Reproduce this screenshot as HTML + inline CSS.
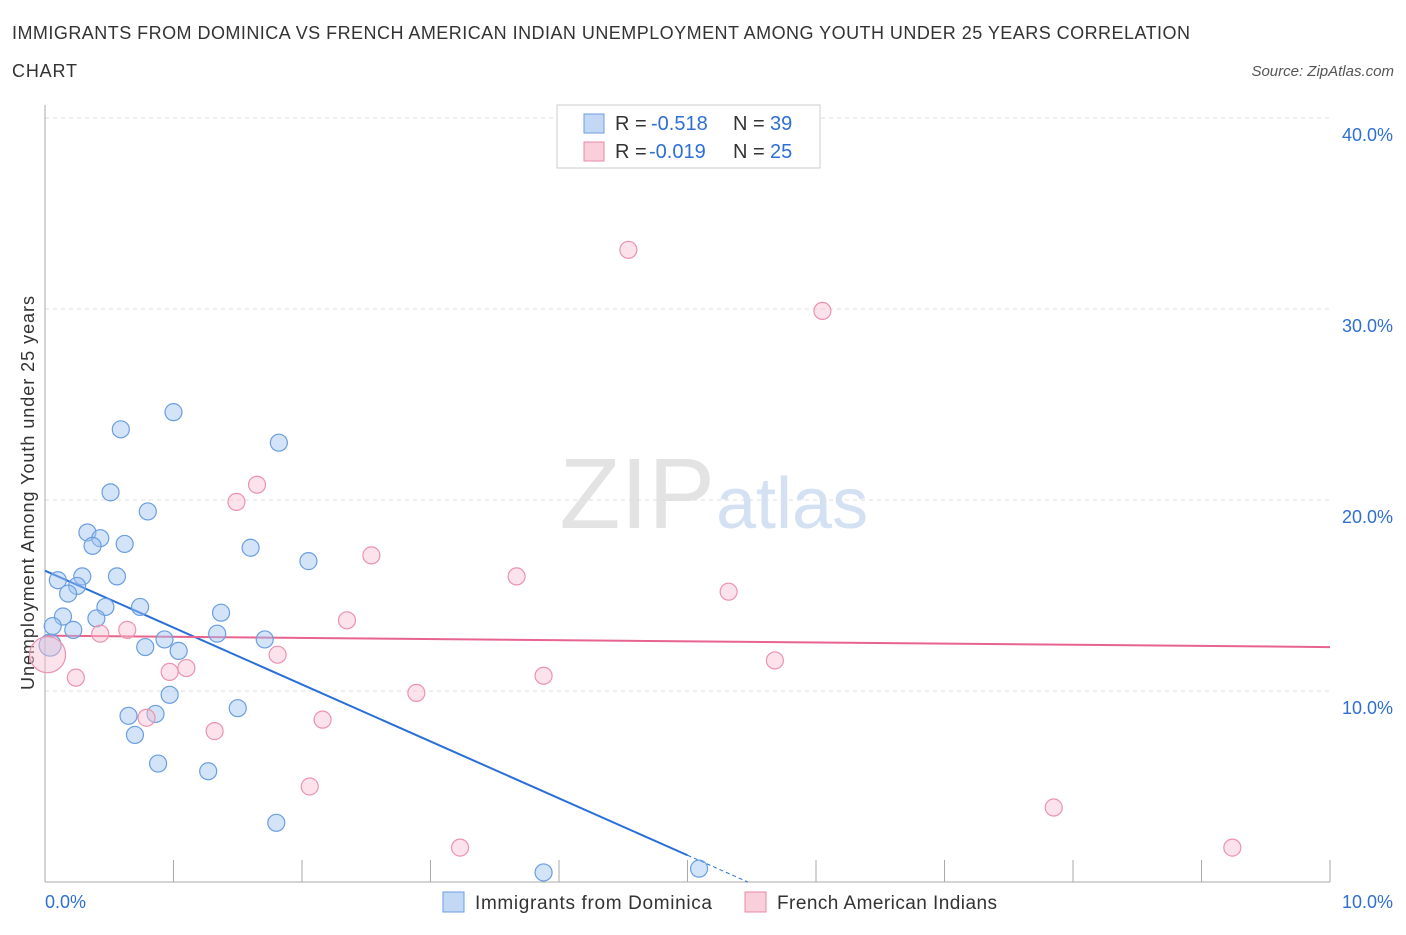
<!DOCTYPE html>
<html><head><meta charset="utf-8"><style>
body{margin:0;background:#fff;font-family:"Liberation Sans",sans-serif;}
svg text{font-family:"Liberation Sans",sans-serif;}
</style></head><body>
<svg width="1406" height="930" id="chart">
<text x="12" y="39" font-size="18" fill="#333" textLength="1178">IMMIGRANTS FROM DOMINICA VS FRENCH AMERICAN INDIAN UNEMPLOYMENT AMONG YOUTH UNDER 25 YEARS CORRELATION</text>
<text x="12" y="77" font-size="18" fill="#333" textLength="65">CHART</text>
<text x="1394" y="76" font-size="15" fill="#555" font-style="italic" text-anchor="end">Source: ZipAtlas.com</text>
<text x="715" y="528" font-size="100" fill="#e3e3e3" text-anchor="end" font-family="Liberation Serif">ZIP</text>
<text x="716" y="528" font-size="72" fill="#d3e1f3">atlas</text>
<text transform="translate(34,493) rotate(-90)" font-size="18" fill="#333" text-anchor="middle" textLength="394">Unemployment Among Youth under 25 years</text>
<g id="grid"></g><g id="axes"></g><g id="lines"></g><g id="pts"></g>
<g>
<rect x="557" y="105" width="263" height="63" fill="#fff" stroke="#ccc"/>
<rect x="584" y="114" width="20" height="19" fill="#c3d8f5" stroke="#6b9ee0"/>
<rect x="584" y="142" width="20" height="19" fill="#f9cfdb" stroke="#e98aa6"/>
<text x="615" y="130" font-size="20" fill="#333">R =</text><text x="651" y="130" font-size="20" fill="#2e6fd4">-0.518</text>
<text x="733" y="130" font-size="20" fill="#333">N =</text><text x="770" y="130" font-size="20" fill="#2e6fd4">39</text>
<text x="615" y="158" font-size="20" fill="#333">R =</text><text x="649" y="158" font-size="20" fill="#2e6fd4">-0.019</text>
<text x="733" y="158" font-size="20" fill="#333">N =</text><text x="770" y="158" font-size="20" fill="#2e6fd4">25</text>
</g>
<g>
<rect x="443" y="892" width="21" height="20" fill="#c3d8f5" stroke="#6b9ee0"/>
<text x="475" y="909" font-size="19" fill="#333" textLength="237">Immigrants from Dominica</text>
<rect x="745" y="892" width="21" height="20" fill="#f9cfdb" stroke="#e98aa6"/>
<text x="777" y="909" font-size="19" fill="#333" textLength="220">French American Indians</text>
</g>
</svg>
<script>
const yTicks=[10,20,30,40];
const yTickLabels=["10.0%","20.0%","30.0%","40.0%"];
const xLabels=["0.0%","10.0%"];
const blueX=[1.00,0.59,1.82,0.51,0.80,0.33,0.43,0.37,0.62,1.60,2.05,0.29,0.10,0.56,0.25,0.18,0.47,0.74,0.40,1.37,0.14,0.06,0.22,0.93,1.34,1.71,0.78,1.04,0.04,0.97,0.65,0.86,1.50,0.70,0.88,1.27,1.80,3.88,5.09];
const blueY=[24.6,23.7,23.0,20.4,19.4,18.3,18.0,17.6,17.7,17.5,16.8,16.0,15.8,16.0,15.5,15.1,14.4,14.4,13.8,14.1,13.9,13.4,13.2,12.7,13.0,12.7,12.3,12.1,12.4,9.8,8.7,8.8,9.1,7.7,6.2,5.8,3.1,0.5,0.7];
const pinkX=[4.54,6.05,1.65,1.49,2.54,3.67,5.32,2.35,0.64,0.43,1.81,5.68,1.10,0.97,3.88,0.24,2.89,2.16,0.79,1.32,2.06,7.85,3.23,9.24,0.02];
const pinkY=[33.1,29.9,20.8,19.9,17.1,16.0,15.2,13.7,13.2,13.0,11.9,11.6,11.2,11.0,10.8,10.7,9.9,8.5,8.6,7.9,5.0,3.9,1.8,1.8,11.9];
const blueTrend=[16.3,-2.98];
const pinkTrend=[12.9,-0.06];
const X=v=>45+v*128.5, Y=v=>882-v*19.1;
const NS="http://www.w3.org/2000/svg";
function mk(t,a,p){const e=document.createElementNS(NS,t);for(const k in a)e.setAttribute(k,a[k]);document.getElementById(p).appendChild(e);return e;}
yTicks.forEach((t,i)=>{
 const l=mk('line',{x1:45,x2:1330,y1:Y(t),y2:Y(t),stroke:'#ddd','stroke-dasharray':'4,4'},'grid');
 
 
 const tx=mk('text',{x:1393,y:Y(t)+23,'font-size':18,fill:'#2e6fd4','text-anchor':'end'},'axes');
 tx.textContent=yTickLabels[i];
 
 
});
const ya=mk('line',{x1:45,x2:45,y1:105,y2:882,stroke:'#aaa'},'axes');


const xa=mk('line',{x1:45,x2:1330,y1:882,y2:882,stroke:'#aaa'},'axes');


for(let i=0;i<=10;i++){const tk=mk('line',{x1:45+i*128.5,x2:45+i*128.5,y1:860,y2:882,stroke:'#aaa'},'axes');
 
 }
[[0,'start',45],[10,'end',1393]].forEach((d,i)=>{const t=mk('text',{x:d[2],y:908,'font-size':18,fill:'#2e6fd4','text-anchor':d[1]},'axes');t.textContent=xLabels[i];
 
 });
const bEnd=5.0, bZero=-blueTrend[0]/blueTrend[1];
const bl=mk('line',{x1:X(0),y1:Y(blueTrend[0]),x2:X(bEnd),y2:Y(blueTrend[0]+blueTrend[1]*bEnd),stroke:'#2a6fd8','stroke-width':2},'lines');


const bd=mk('line',{x1:X(bEnd),y1:Y(blueTrend[0]+blueTrend[1]*bEnd),x2:X(bZero),y2:Y(0),stroke:'#2a6fd8','stroke-width':1,'stroke-dasharray':'4,3'},'lines');


const pl=mk('line',{x1:X(0),y1:Y(pinkTrend[0]),x2:X(10),y2:Y(pinkTrend[0]+pinkTrend[1]*10),stroke:'#e8648f','stroke-width':2},'lines');


blueX.forEach((x,i)=>{const c=mk('circle',{cx:X(x),cy:Y(blueY[i]),r:i==28?11:8.5,fill:'rgba(160,195,240,0.45)',stroke:'#6b9ee0','stroke-width':1.2},'pts');
 
 });
pinkX.forEach((x,i)=>{const c=mk('circle',{cx:X(x),cy:Y(pinkY[i]),r:i==24?18:8.5,fill:'rgba(248,190,208,0.45)',stroke:'#ec93ae','stroke-width':1.2},'pts');
 
 });
</script>
</body></html>
